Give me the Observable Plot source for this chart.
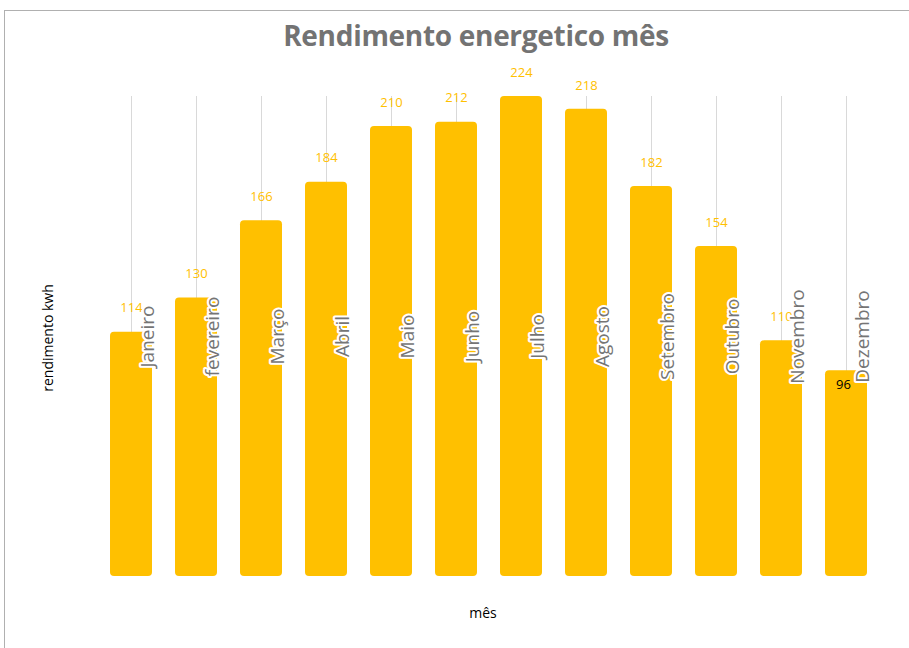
<!DOCTYPE html>
<html>
<head>
<meta charset="utf-8">
<script src="https://cdn.jsdelivr.net/npm/d3@7"></script>
<script src="https://cdn.jsdelivr.net/npm/@observablehq/plot@0.6"></script>
<style>
  body { margin: 0; background: #fff; }
  #wrap { position: relative; width: 909px; height: 648px; overflow: hidden; font-family: "Open Sans", sans-serif; }
  #frame { position: absolute; left: 4px; top: 10px; width: 920px; height: 660px; border: 1px solid #b0b0b0; box-sizing: border-box; }
  #title { position: absolute; left: 0; width: 952px; top: 16px; text-align: center; font-size: 28px; font-weight: bold; color: #737373; letter-spacing: -0.3px; }
  #ytitle { position: absolute; left: 47px; top: 338px; transform: translate(-50%, -50%) rotate(-90deg); font-size: 14px; color: #000; white-space: nowrap; }
  #xtitle { position: absolute; left: 483px; top: 612px; transform: translate(-50%, -50%); font-size: 14px; color: #000; }
  #chart { position: absolute; left: 0; top: 0; }
</style>
</head>
<body>
<div id="wrap">
  <div id="frame"></div>
  <div id="chart"></div>
  <div id="title">Rendimento energetico mês</div>
  <div id="ytitle">rendimento kwh</div>
  <div id="xtitle">mês</div>
</div>
<script>
const months = ["Janeiro", "fevereiro", "Março", "Abril", "Maio", "Junho", "Julho", "Agosto", "Setembro", "Outubro", "Novembro", "Dezembro"];
const values = [114, 130, 166, 184, 210, 212, 224, 218, 182, 154, 110, 96];
const labelsInside = ["Dezembro"];

const data = months.map((m, i) => ({month: m, value: values[i]}));
const gold = "#FFC000";

const chart = Plot.plot({
  width: 909,
  height: 648,
  marginTop: 96,
  marginBottom: 72,
  marginLeft: 87,
  marginRight: 19,
  style: {background: "transparent", overflow: "visible"},
  x: {domain: months, padding: 0.354, round: false, axis: null},
  y: {domain: [0, 224], axis: null},
  marks: [
    Plot.ruleX(data, {x: "month", y1: 0, y2: 224, stroke: "#d9d9d9", strokeWidth: 1}),
    Plot.barY(data, {x: "month", y: "value", fill: gold, rx: 4}),
    Plot.text(data.filter(d => !labelsInside.includes(d.month)), {
      x: "month", y: "value", text: d => String(d.value), dy: -24,
      fill: gold, fontSize: 13, fontFamily: "Open Sans"
    }),
    Plot.text(data.filter(d => labelsInside.includes(d.month)), {
      x: "month", y: "value", text: d => String(d.value), dy: 14, dx: -3,
      fill: "#000", fontSize: 13, fontFamily: "Open Sans"
    }),
    Plot.text(data, {
      x: "month", y: () => 112, text: "month", rotate: -90, dx: 16,
      fill: "#757575", stroke: "#fff", strokeWidth: 4, fontSize: 19,
      fontFamily: "Open Sans", textAnchor: "middle", lineAnchor: "middle"
    })
  ]
});
document.getElementById("chart").appendChild(chart);
</script>
</body>
</html>
